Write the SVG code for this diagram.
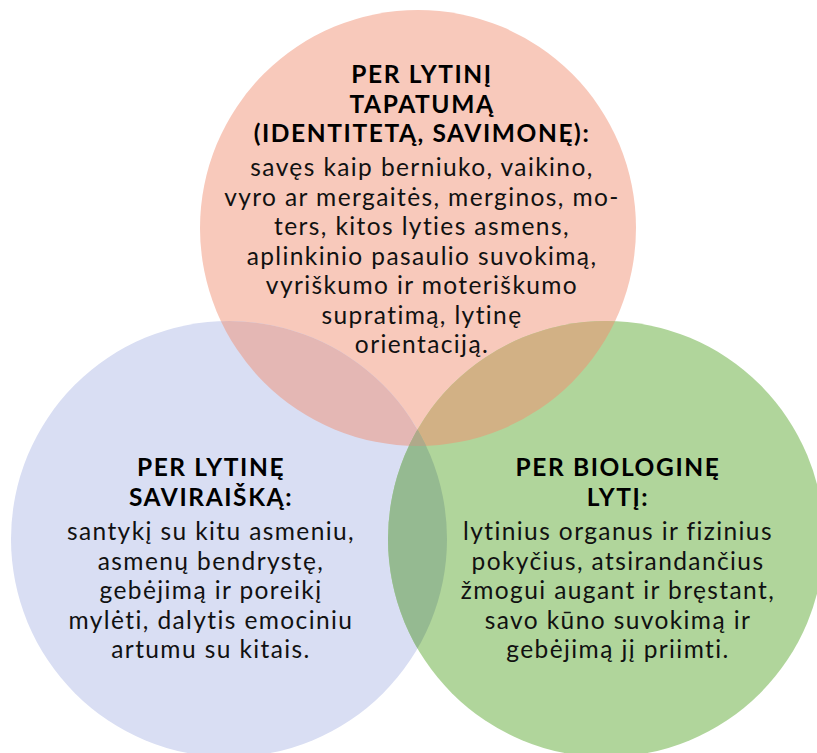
<svg xmlns="http://www.w3.org/2000/svg" width="817" height="753" viewBox="0 0 817 753">
<style>
.h{font-family:Lato,"Liberation Sans",sans-serif;font-weight:700;font-size:24.5px;letter-spacing:1.6px;fill:#000;text-anchor:middle}
.b{font-family:Lato,"Liberation Sans",sans-serif;font-weight:400;font-size:24.5px;letter-spacing:1.4px;fill:#111;text-anchor:middle}
</style>
<defs>
<clipPath id="clipTop"><circle cx="418" cy="228" r="218"/></clipPath>
<clipPath id="clipLeft"><circle cx="229" cy="539" r="218"/></clipPath>
</defs>
<rect width="817" height="753" fill="#fff"/>
<g id="node-identity">
<circle cx="418" cy="228" r="218" fill="#F8C9BB"/>
</g>
<g id="node-expression">
<circle cx="229" cy="539" r="218" fill="#D9DEF3"/>
</g>
<g id="node-biological">
<circle cx="606" cy="539" r="218" fill="#B0D59B"/>
</g>
<g id="overlaps">
<circle cx="229" cy="539" r="218" fill="#E4B7B4" clip-path="url(#clipTop)"/>
<circle cx="606" cy="539" r="218" fill="#D2B185" clip-path="url(#clipTop)"/>
<circle cx="606" cy="539" r="218" fill="#95BA91" clip-path="url(#clipLeft)"/>
<g clip-path="url(#clipTop)"><circle cx="606" cy="539" r="218" fill="#B0A98A" clip-path="url(#clipLeft)"/></g>
</g>
<g id="text-identity">
<text class="h" x="422" y="83">PER LYTINĮ</text>
<text class="h" x="422" y="112.5">TAPATUMĄ</text>
<text class="h" x="422" y="142">(IDENTITETĄ, SAVIMONĘ):</text>
<text class="b" x="422" y="176">savęs kaip berniuko, vaikino,</text>
<text class="b" x="422" y="205.5">vyro ar mergaitės, merginos, mo-</text>
<text class="b" x="422" y="235">ters, kitos lyties asmens,</text>
<text class="b" x="422" y="264.5">aplinkinio pasaulio suvokimą,</text>
<text class="b" x="422" y="294">vyriškumo ir moteriškumo</text>
<text class="b" x="422" y="323.5">supratimą, lytinę</text>
<text class="b" x="422" y="353">orientaciją.</text>
</g>
<g id="text-expression">
<text class="h" x="211" y="476">PER LYTINĘ</text>
<text class="h" x="211" y="505.5">SAVIRAIŠKĄ:</text>
<text class="b" x="211" y="540">santykį su kitu asmeniu,</text>
<text class="b" x="211" y="569.5">asmenų bendrystę,</text>
<text class="b" x="211" y="599">gebėjimą ir poreikį</text>
<text class="b" x="211" y="628.5">mylėti, dalytis emociniu</text>
<text class="b" x="211" y="658">artumu su kitais.</text>
</g>
<g id="text-biological">
<text class="h" x="618" y="476">PER BIOLOGINĘ</text>
<text class="h" x="618" y="505.5">LYTĮ:</text>
<text class="b" x="618" y="540">lytinius organus ir fizinius</text>
<text class="b" x="618" y="569.5">pokyčius, atsirandančius</text>
<text class="b" x="618" y="599">žmogui augant ir bręstant,</text>
<text class="b" x="618" y="628.5">savo kūno suvokimą ir</text>
<text class="b" x="618" y="658">gebėjimą jį priimti.</text>
</g>
</svg>
